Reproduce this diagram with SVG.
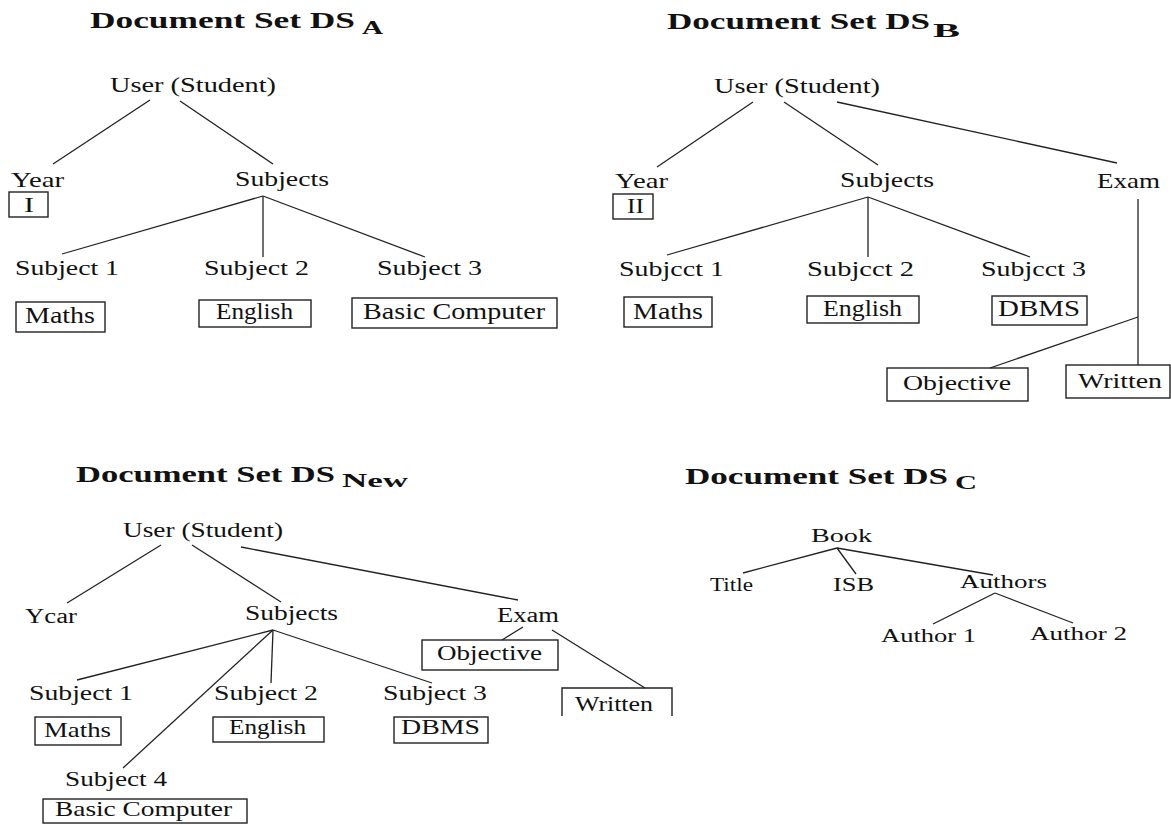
<svg xmlns="http://www.w3.org/2000/svg" width="1171" height="825" viewBox="0 0 1171 825">
<style>
text{font-family:"Liberation Serif","Times New Roman",serif;fill:#111}
.t{font-weight:bold;font-size:24px}
.sub{font-weight:bold;font-size:19px}
.n{font-size:22px}
.m{font-size:20px}
.s{font-size:19px}
.bx{font-size:23px}
.bxs{font-size:21px}
rect,.box{fill:none;stroke:#222;stroke-width:1.4}
#connectors line{stroke:#222;stroke-width:1.3}
</style>
<rect x="0" y="0" width="1171" height="825" style="fill:#fff;stroke:none"/>

<g id="connectors">
<line x1="150" y1="100" x2="53" y2="164"/>
<line x1="180" y1="101" x2="273" y2="164"/>
<line x1="263" y1="196" x2="62" y2="254"/>
<line x1="263" y1="196" x2="263" y2="257"/>
<line x1="263" y1="196" x2="425" y2="257"/>
<line x1="753" y1="102" x2="657" y2="167"/>
<line x1="784" y1="102" x2="878" y2="165"/>
<line x1="837" y1="102" x2="1117" y2="163"/>
<line x1="868" y1="197" x2="667" y2="255"/>
<line x1="868" y1="197" x2="868" y2="257"/>
<line x1="868" y1="197" x2="1030" y2="257"/>
<line x1="1138" y1="199" x2="1138" y2="365"/>
<line x1="1138" y1="317" x2="990" y2="368"/>
<line x1="161" y1="545" x2="67" y2="603"/>
<line x1="192" y1="545" x2="281" y2="602"/>
<line x1="241" y1="547" x2="518" y2="600"/>
<line x1="273" y1="630" x2="77" y2="680"/>
<line x1="273" y1="630" x2="271" y2="683"/>
<line x1="273" y1="630" x2="432" y2="683"/>
<line x1="273" y1="630" x2="123" y2="768"/>
<line x1="523" y1="627" x2="502" y2="640"/>
<line x1="552" y1="630" x2="645" y2="688"/>
<line x1="837" y1="548" x2="743" y2="573"/>
<line x1="837" y1="548" x2="856" y2="574"/>
<line x1="837" y1="548" x2="993" y2="575"/>
<line x1="995" y1="593" x2="933" y2="624"/>
<line x1="995" y1="593" x2="1073" y2="623"/>
</g>

<g id="titleA"><text class="t" x="90" y="28" textLength="265" lengthAdjust="spacingAndGlyphs">Document Set DS</text><text class="sub" x="362" y="34" textLength="21" lengthAdjust="spacingAndGlyphs">A</text></g>
<g id="A_user"><text class="n" x="110" y="92" textLength="166" lengthAdjust="spacingAndGlyphs">User (Student)</text></g>
<g id="A_year"><text class="n" x="11" y="187" textLength="53" lengthAdjust="spacingAndGlyphs">Year</text></g>
<g id="A_yearval"><rect x="9" y="192" width="39" height="25"/><text class="n" x="24" y="212" textLength="10" lengthAdjust="spacingAndGlyphs">I</text></g>
<g id="A_subjects"><text class="n" x="235" y="186" textLength="94" lengthAdjust="spacingAndGlyphs">Subjects</text></g>
<g id="A_s1"><text class="n" x="15" y="275" textLength="104" lengthAdjust="spacingAndGlyphs">Subject 1</text></g>
<g id="A_s2"><text class="n" x="204" y="275" textLength="105" lengthAdjust="spacingAndGlyphs">Subject 2</text></g>
<g id="A_s3"><text class="n" x="377" y="275" textLength="105" lengthAdjust="spacingAndGlyphs">Subject 3</text></g>
<g id="A_maths"><rect x="16" y="302" width="89" height="30"/><text class="bx" x="25" y="323" textLength="70" lengthAdjust="spacingAndGlyphs">Maths</text></g>
<g id="A_english"><rect x="199" y="300" width="112" height="27"/><text class="bx" x="216" y="319" textLength="77" lengthAdjust="spacingAndGlyphs">English</text></g>
<g id="A_basic"><rect x="352" y="298" width="205" height="30"/><text class="bx" x="363" y="319" textLength="182" lengthAdjust="spacingAndGlyphs">Basic Computer</text></g>

<g id="titleB"><text class="t" x="667" y="29" textLength="263" lengthAdjust="spacingAndGlyphs">Document Set DS</text><text class="sub" x="933" y="37" textLength="27" lengthAdjust="spacingAndGlyphs">B</text></g>
<g id="B_user"><text class="n" x="714" y="93" textLength="166" lengthAdjust="spacingAndGlyphs">User (Student)</text></g>
<g id="B_year"><text class="n" x="615" y="188" textLength="53" lengthAdjust="spacingAndGlyphs">Year</text></g>
<g id="B_yearval"><rect x="613" y="194" width="40" height="25"/><text class="n" x="627" y="213" textLength="17" lengthAdjust="spacingAndGlyphs">II</text></g>
<g id="B_subjects"><text class="n" x="840" y="187" textLength="94" lengthAdjust="spacingAndGlyphs">Subjects</text></g>
<g id="B_exam"><text class="n" x="1097" y="188" textLength="63" lengthAdjust="spacingAndGlyphs">Exam</text></g>
<g id="B_s1"><text class="n" x="619" y="276" textLength="105" lengthAdjust="spacingAndGlyphs">Subjcct 1</text></g>
<g id="B_s2"><text class="n" x="807" y="276" textLength="107" lengthAdjust="spacingAndGlyphs">Subjcct 2</text></g>
<g id="B_s3"><text class="n" x="981" y="276" textLength="105" lengthAdjust="spacingAndGlyphs">Subjcct 3</text></g>
<g id="B_maths"><rect x="624" y="297" width="88" height="30"/><text class="bx" x="633" y="319" textLength="70" lengthAdjust="spacingAndGlyphs">Maths</text></g>
<g id="B_english"><rect x="807" y="296" width="112" height="27"/><text class="bx" x="823" y="316" textLength="79" lengthAdjust="spacingAndGlyphs">English</text></g>
<g id="B_dbms"><rect x="992" y="296" width="95" height="29"/><text class="bx" x="998" y="316" textLength="82" lengthAdjust="spacingAndGlyphs">DBMS</text></g>
<g id="B_objective"><rect x="887" y="368" width="141" height="33"/><text class="bxs" x="903" y="390" textLength="108" lengthAdjust="spacingAndGlyphs">Objective</text></g>
<g id="B_written"><rect x="1066" y="365" width="104" height="33"/><text class="bxs" x="1078" y="388" textLength="84" lengthAdjust="spacingAndGlyphs">Written</text></g>

<g id="titleNew"><text class="t" x="76" y="482" textLength="259" lengthAdjust="spacingAndGlyphs">Document Set DS</text><text class="sub" x="342" y="487" textLength="66" lengthAdjust="spacingAndGlyphs">New</text></g>
<g id="N_user"><text class="m" x="123" y="537" textLength="160" lengthAdjust="spacingAndGlyphs">User (Student)</text></g>
<g id="N_year"><text class="m" x="25" y="623" textLength="52" lengthAdjust="spacingAndGlyphs">Ycar</text></g>
<g id="N_subjects"><text class="m" x="245" y="620" textLength="93" lengthAdjust="spacingAndGlyphs">Subjects</text></g>
<g id="N_exam"><text class="m" x="497" y="622" textLength="62" lengthAdjust="spacingAndGlyphs">Exam</text></g>
<g id="N_s1"><text class="m" x="29" y="700" textLength="104" lengthAdjust="spacingAndGlyphs">Subject 1</text></g>
<g id="N_s2"><text class="m" x="214" y="700" textLength="104" lengthAdjust="spacingAndGlyphs">Subject 2</text></g>
<g id="N_s3"><text class="m" x="383" y="700" textLength="104" lengthAdjust="spacingAndGlyphs">Subject 3</text></g>
<g id="N_s4"><text class="m" x="65" y="786" textLength="102" lengthAdjust="spacingAndGlyphs">Subject 4</text></g>
<g id="N_maths"><rect x="35" y="717" width="86" height="28"/><text class="bxs" x="44" y="737" textLength="67" lengthAdjust="spacingAndGlyphs">Maths</text></g>
<g id="N_english"><rect x="213" y="717" width="111" height="25"/><text class="bxs" x="229" y="734" textLength="77" lengthAdjust="spacingAndGlyphs">English</text></g>
<g id="N_dbms"><rect x="394" y="717" width="94" height="26"/><text class="bxs" x="401" y="734" textLength="79" lengthAdjust="spacingAndGlyphs">DBMS</text></g>
<g id="N_basic"><rect x="43" y="799" width="204" height="24"/><text class="bxs" x="55" y="816" textLength="177" lengthAdjust="spacingAndGlyphs">Basic Computer</text></g>
<g id="N_objective"><rect x="422" y="640" width="136" height="30"/><text class="bxs" x="437" y="660" textLength="105" lengthAdjust="spacingAndGlyphs">Objective</text></g>
<g id="N_written"><path class="box" d="M562 716 V688 H672 V716"/><text class="bxs" x="575" y="711" textLength="78" lengthAdjust="spacingAndGlyphs">Written</text></g>

<g id="titleC"><text class="t" x="685" y="484" textLength="263" lengthAdjust="spacingAndGlyphs">Document Set DS</text><text class="sub" x="955" y="489" textLength="22" lengthAdjust="spacingAndGlyphs">C</text></g>
<g id="C_book"><text class="s" x="811" y="542" textLength="61" lengthAdjust="spacingAndGlyphs">Book</text></g>
<g id="C_title"><text class="s" x="710" y="591" textLength="43" lengthAdjust="spacingAndGlyphs">Title</text></g>
<g id="C_isb"><text class="s" x="833" y="591" textLength="41" lengthAdjust="spacingAndGlyphs">ISB</text></g>
<g id="C_authors"><text class="s" x="960" y="588" textLength="87" lengthAdjust="spacingAndGlyphs">Authors</text></g>
<g id="C_author1"><text class="s" x="881" y="642" textLength="95" lengthAdjust="spacingAndGlyphs">Author 1</text></g>
<g id="C_author2"><text class="s" x="1030" y="640" textLength="97" lengthAdjust="spacingAndGlyphs">Author 2</text></g>
</svg>
